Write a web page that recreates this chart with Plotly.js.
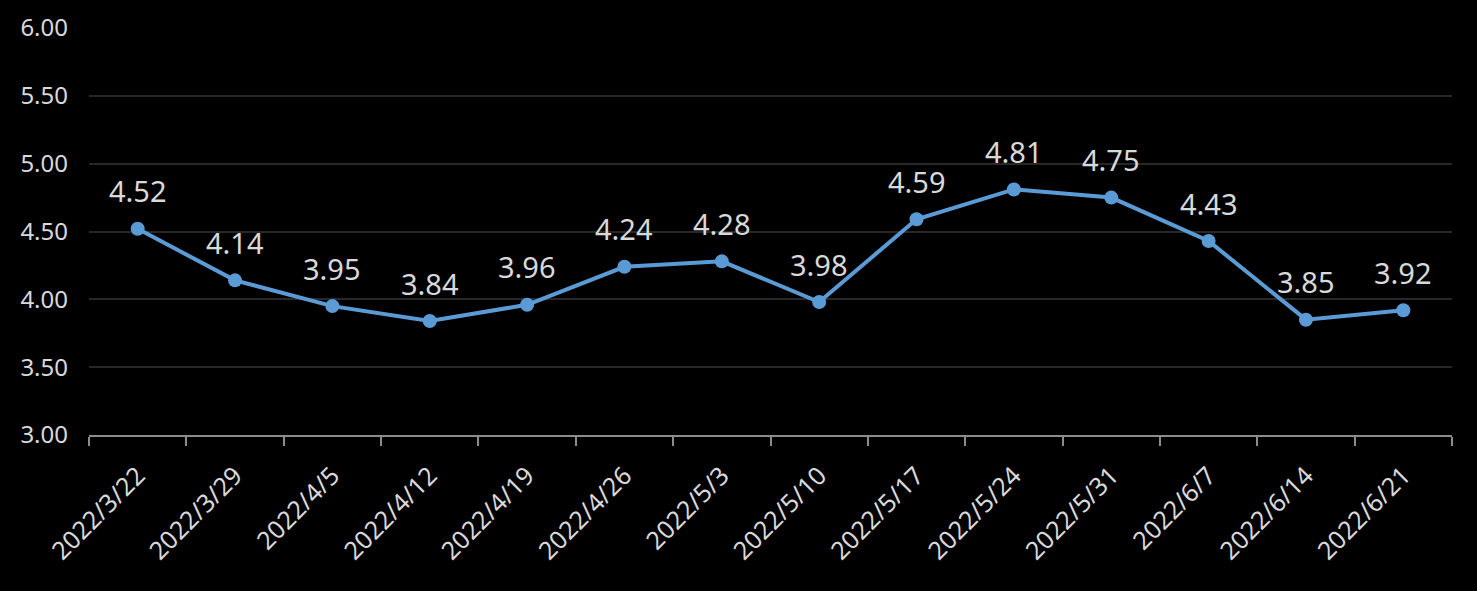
<!DOCTYPE html>
<html>
<head>
<meta charset="utf-8">
<script src="https://cdn.plot.ly/plotly-3.0.1.min.js"></script>
<style>html,body{margin:0;padding:0;background:#000;}#chart{width:1477px;height:591px;}</style>
</head>
<body>
<div id="chart"></div>
<script>
const categories = ["2022/3/22","2022/3/29","2022/4/5","2022/4/12","2022/4/19","2022/4/26","2022/5/3","2022/5/10","2022/5/17","2022/5/24","2022/5/31","2022/6/7","2022/6/14","2022/6/21"];
const values = [4.52,4.14,3.95,3.84,3.96,4.24,4.28,3.98,4.59,4.81,4.75,4.43,3.85,3.92];
const yTicks = [3.0,3.5,4.0,4.5,5.0,5.5,6.0];

const textColor = "#d9d9d9";
const trace = {
  x: categories,
  y: values,
  type: "scatter",
  mode: "lines+markers",
  line: {color: "#5b9bd5", width: 4},
  marker: {color: "#5b9bd5", size: 14},
  cliponaxis: false,
  hoverinfo: "x+y"
};
const annotations = categories.map((c, i) => ({
  x: c, y: values[i], xref: "x", yref: "y",
  text: values[i].toFixed(2),
  showarrow: false,
  xanchor: "center", yanchor: "middle",
  yshift: 38,
  font: {family: "Noto Sans, sans-serif", size: 29, color: textColor}
}));
const layout = {
  width: 1477, height: 591,
  paper_bgcolor: "#000", plot_bgcolor: "#000",
  margin: {l: 89, r: 25, t: 28, b: 156},
  showlegend: false,
  font: {family: "Noto Sans, sans-serif", color: textColor},
  annotations: annotations,
  xaxis: {
    type: "category",
    tickangle: -45,
    tickson: "boundaries",
    ticks: "outside", ticklen: 9, tickcolor: "#8c8c8c", tickwidth: 2,
    showline: true, linecolor: "#8c8c8c", linewidth: 2,
    showgrid: false, zeroline: false,
    ticklabelstandoff: 14,
    tickfont: {size: 25, color: textColor},
    range: [-0.5, categories.length - 0.5]
  },
  yaxis: {
    range: [3, 6],
    tickvals: yTicks,
    tickformat: ".2f",
    showgrid: true, gridcolor: "#282828", gridwidth: 2,
    zeroline: false, showline: false, ticks: "",
    ticklabelstandoff: 20,
    tickfont: {size: 24, color: textColor}
  }
};
Plotly.newPlot("chart", [trace], layout, {displayModeBar: false, staticPlot: true});
</script>
</body>
</html>
